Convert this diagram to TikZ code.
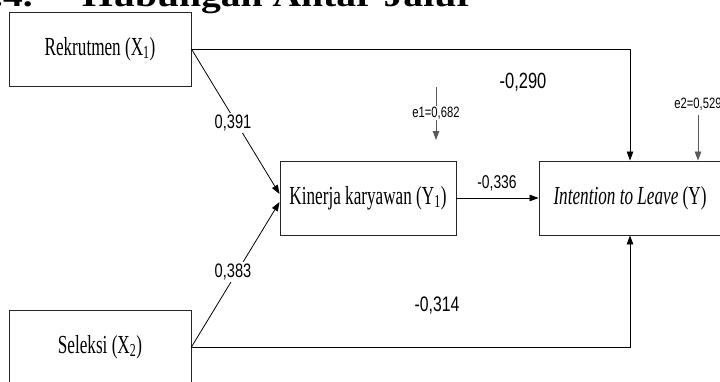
\documentclass[tikz,border=0pt]{standalone}
\usepackage{fontspec}
\setmainfont{Liberation Serif}
\newfontfamily\boxfont[FakeStretch=0.66]{Liberation Serif}
\newfontfamily\numfont[FakeStretch=0.75]{Liberation Sans}
\newfontfamily\headfont[FakeStretch=1.2]{Liberation Serif}
\usetikzlibrary{arrows.meta,calc}
\tikzset{
  varbox/.style={draw=black!85, line width=0.9pt, rectangle, inner sep=0pt,
    minimum height=74pt, font=\boxfont\fontsize{26}{28}\selectfont},
  arr/.style={draw=black, line width=0.8pt, -{Triangle[length=9pt,width=6.5pt]}},
  earr/.style={draw=black!65, line width=0.8pt, -{Triangle[length=9pt,width=6.5pt]}},
  coef/.style={font=\numfont\fontsize{#1}{#1}\selectfont, inner sep=1.5pt},
  coefw/.style={coef=#1, fill=white},
  err/.style={font=\numfont\fontsize{15}{15}\selectfont, inner sep=1pt, fill=white},
  heading/.style={inner sep=0pt, font=\headfont\fontsize{33}{33}\selectfont\bfseries},
}
\begin{document}
\begin{tikzpicture}[x=1pt,y=-1pt]
\useasboundingbox (0,0) rectangle (720,381);
\clip (0,0) rectangle (720,381);
\fill[white] (0,0) rectangle (720,381);

% section heading above the model
\node[heading, anchor=base east] (secnum) at (33,6) {4.4.};
\node[heading, anchor=base west] (sectitle) at (82,6) {Hubungan Antar Jalur};

% variables
\node[varbox, minimum width=182pt] (r) at (100,49) {Rekrutmen (X\textsubscript{1})};
\node[varbox, minimum width=182pt] (s) at (100,347) {Seleksi (X\textsubscript{2})};
\node[varbox, minimum width=176pt] (k) at (368,198) {Kinerja karyawan (Y\textsubscript{1})};
\node[varbox, minimum width=182pt] (y) at (630,198) {\textit{Intention to Leave} (Y)};

% paths
\draw[arr] (r.east) -| (y.north);
\draw[arr] (s.east) -| (y.south);
\draw[arr] (k.east) -- (y.west);
\draw[arr] (r.east) -- ($(k.west)+(0,-4)$);
\draw[arr] (s.east) -- ($(k.west)+(0,4)$);

% error terms
\coordinate (e1a) at (436,87);
\coordinate (e1b) at (436,140);
\draw[earr] (e1a) -- (e1b);
\node[err] (e1) at (436,113) {e1=0,682};
\coordinate (e2a) at (698,115);
\draw[earr] (e2a) -- (e2a |- y.north);
\node[err] (e2) at (698,104) {e2=0,529};

% path coefficients
\node[coef=22] (c290) at (523,82) {-0,290};
\node[coef=18.5] (c336) at (497,183) {-0,336};
\node[coefw=19.5] (c391) at (233,123) {0,391};
\node[coefw=19.5] (c383) at (233,272) {0,383};
\node[coef=21] (c314) at (437,306) {-0,314};
\end{tikzpicture}
\end{document}
